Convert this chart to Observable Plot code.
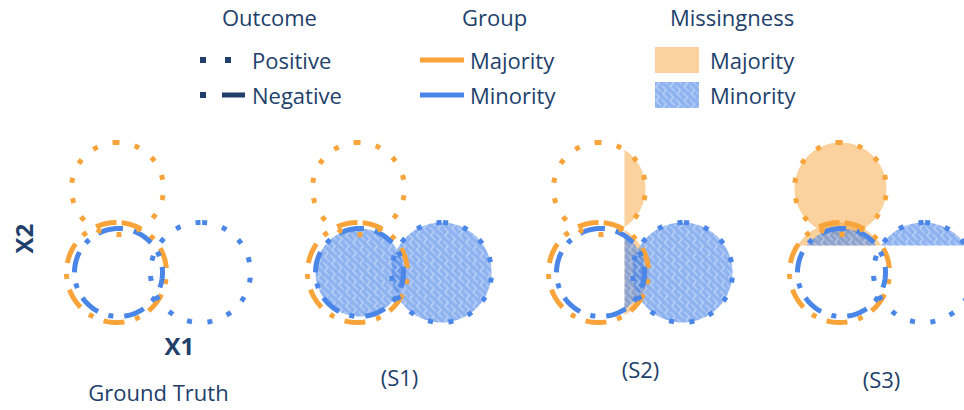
<!DOCTYPE html>
<html><head><meta charset="utf-8">
<script src="https://cdn.jsdelivr.net/npm/d3@7"></script>
<script src="https://cdn.jsdelivr.net/npm/@observablehq/plot@0.6"></script>
<style>
body{margin:0;background:#fff;font-family:"Open Sans",sans-serif;color:#213f6b;}
#wrap{position:relative;width:964px;height:410px;overflow:hidden}
#legend{position:absolute;left:0;top:0;width:964px;height:120px}
.t{position:absolute;font-size:22px;line-height:1;transform:translateY(-50%);white-space:nowrap}
.sw{position:absolute}
#chart{position:absolute;left:0;top:120px}
</style></head><body>
<div id="wrap"><div id="legend"></div><div id="chart"></div></div>
<script>
// ---------------- data ----------------
const panels = ["Ground Truth", "(S1)", "(S2)", "(S3)"];
const circleGroup = ["Majority", "Majority", "Minority", "Minority"];
const circleOutcome = ["Positive", "Negative", "Negative", "Positive"];
const centerX1 = [117, 116, 118, 200];
const centerX2 = [222, 138, 138, 138];
const radius = [46, 50, 44, 50];
// which part of each circle is missing, per panel
const missingGT = ["none", "none", "none", "none"];
const missingS1 = ["none", "none", "all", "all"];
const missingS2 = ["right", "right", "right", "all"];
const missingS3 = ["top", "top", "top", "top"];
const thresholdX1 = 142;
const thresholdX2 = 165;
const outcomeLabels = ["Positive", "Negative"];
const groupLabels = ["Majority", "Minority"];
const missingLabels = ["Majority", "Minority"];
const legendTitles = ["Outcome", "Group", "Missingness"];
const axisLabels = ["X1", "X2"];

// ---------------- style ----------------
const ORANGE = "#f8a43b", BLUE = "#4a86e8", NAVY = "#213f6b";
const missingByPanel = [missingGT, missingS1, missingS2, missingS3];

// ---------------- legend (HTML) ----------------
const legend = d3.select("#legend");
const addText = (txt, left, cy) => legend.append("div").attr("class", "t").style("left", left + "px").style("top", cy + "px").text(txt);
addText(legendTitles[0], 222, 17);
addText(legendTitles[1], 462, 17);
addText(legendTitles[2], 670, 17);
addText(outcomeLabels[0], 252, 60);
addText(outcomeLabels[1], 252, 95);
addText(groupLabels[0], 470, 60);
addText(groupLabels[1], 470, 95);
addText(missingLabels[0], 710, 60);
addText(missingLabels[1], 710, 95);

const sw = legend.append("svg").attr("class", "sw").attr("width", 964).attr("height", 120).style("left", "0px").style("top", "0px");
sw.append("defs").html(`
<pattern id="maze" patternUnits="userSpaceOnUse" width="10" height="10" patternTransform="rotate(45)">
  <rect width="10" height="10" fill="${BLUE}" fill-opacity="0.63"/>
  <path d="M0,2.5 H5 V7.5 H10" fill="none" stroke="#ffffff" stroke-opacity="0.4" stroke-width="1.6"/>
  <path d="M0,7.5 H2.5 M7.5,2.5 H10" fill="none" stroke="#ffffff" stroke-opacity="0.3" stroke-width="1.6"/>
</pattern>`);
// outcome swatches
sw.append("line").attr("x1", 200).attr("x2", 206).attr("y1", 60).attr("y2", 60).attr("stroke", NAVY).attr("stroke-width", 6);
sw.append("line").attr("x1", 225).attr("x2", 231).attr("y1", 60).attr("y2", 60).attr("stroke", NAVY).attr("stroke-width", 6);
sw.append("line").attr("x1", 200).attr("x2", 206).attr("y1", 95).attr("y2", 95).attr("stroke", NAVY).attr("stroke-width", 6);
sw.append("line").attr("x1", 222).attr("x2", 245).attr("y1", 95).attr("y2", 95).attr("stroke", NAVY).attr("stroke-width", 5);
// group swatches
sw.append("line").attr("x1", 420).attr("x2", 464).attr("y1", 60).attr("y2", 60).attr("stroke", ORANGE).attr("stroke-width", 5);
sw.append("line").attr("x1", 420).attr("x2", 464).attr("y1", 95).attr("y2", 95).attr("stroke", BLUE).attr("stroke-width", 5);
// missingness swatches
sw.append("rect").attr("x", 655).attr("y", 47).attr("width", 44).attr("height", 26).attr("fill", ORANGE).attr("fill-opacity", 0.5);
sw.append("rect").attr("x", 655).attr("y", 82).attr("width", 44).attr("height", 26).attr("fill", "url(#maze)");

// ---------------- geometry ----------------
const N = 180;
const strokeRows = [];
const fillRows = [];
panels.forEach((p, pi) => {
  circleGroup.forEach((g, i) => {
    const cx = centerX1[i], cy = centerX2[i], r = radius[i];
    for (let k = 0; k <= N; k++) {
      const a = Math.PI / 2 + (k / N) * 2 * Math.PI;
      strokeRows.push({panel: p, id: i, group: g, outcome: circleOutcome[i], x: cx + r * Math.cos(a), y: cy + r * Math.sin(a)});
    }
    const rule = missingByPanel[pi][i];
    let a0 = null, a1 = null;
    if (rule === "all") { a0 = 0; a1 = 2 * Math.PI; }
    else if (rule === "right") {
      const c = (thresholdX1 - cx) / r;
      if (c <= -1) { a0 = 0; a1 = 2 * Math.PI; }
      else if (c < 1) { const al = Math.acos(c); a0 = -al; a1 = al; }
    } else if (rule === "top") {
      const s = (thresholdX2 - cy) / r;
      if (s <= -1) { a0 = 0; a1 = 2 * Math.PI; }
      else if (s < 1) { const b = Math.asin(s); a0 = b; a1 = Math.PI - b; }
    }
    if (a0 !== null) {
      for (let k = 0; k <= N; k++) {
        const a = a0 + (k / N) * (a1 - a0);
        fillRows.push({panel: p, id: i, group: g, x: cx + r * Math.cos(a), y: cy + r * Math.sin(a)});
      }
    }
  });
});

const labelX1 = (d3.min(centerX1) + d3.max(centerX1)) / 2;
const labelLift = [17, 32, 40, 30];

const chart = Plot.plot({
  width: 964,
  height: 290,
  margin: 0,
  style: {fontFamily: "Open Sans, sans-serif", color: NAVY, background: "transparent"},
  fx: {domain: panels, padding: 0, axis: null},
  x: {domain: [0, 241], axis: null},
  y: {domain: [0, 290], axis: null},
  color: {domain: groupLabels, range: [ORANGE, BLUE]},
  marks: [
    Plot.line(fillRows.filter(d => d.group === "Majority"), {fx: "panel", x: "x", y: "y", z: "id", stroke: "none", fill: ORANGE, fillOpacity: 0.5, curve: "linear"}),
    Plot.line(fillRows.filter(d => d.group === "Minority"), {fx: "panel", x: "x", y: "y", z: "id", stroke: "none", fill: "url(#maze)", curve: "linear"}),
    Plot.line(strokeRows.filter(d => d.outcome === "Negative"), {fx: "panel", x: "x", y: "y", z: "id", stroke: "group", strokeWidth: 5, strokeDasharray: "21,11,5,11", strokeLinecap: "butt"}),
    Plot.line(strokeRows.filter(d => d.outcome === "Positive"), {fx: "panel", x: "x", y: "y", z: "id", stroke: "group", strokeWidth: 5, strokeDasharray: "5,15.5", strokeLinecap: "butt"}),
    Plot.text(panels, {fx: d => d, x: () => labelX1, y: (d, i) => labelLift[i], text: d => d, fontSize: 22, fill: NAVY}),
    Plot.text([axisLabels[0]], {fx: () => panels[0], frameAnchor: "bottom-left", dx: 164, dy: -56, text: d => d, fontSize: 24, fontWeight: "bold", fill: NAVY}),
    Plot.text([axisLabels[1]], {fx: () => panels[0], frameAnchor: "left", dx: 25, dy: -12, rotate: -90, text: d => d, fontSize: 24, fontWeight: "bold", fill: NAVY})
  ]
});
document.getElementById("chart").appendChild(chart);
</script>
</body></html>
